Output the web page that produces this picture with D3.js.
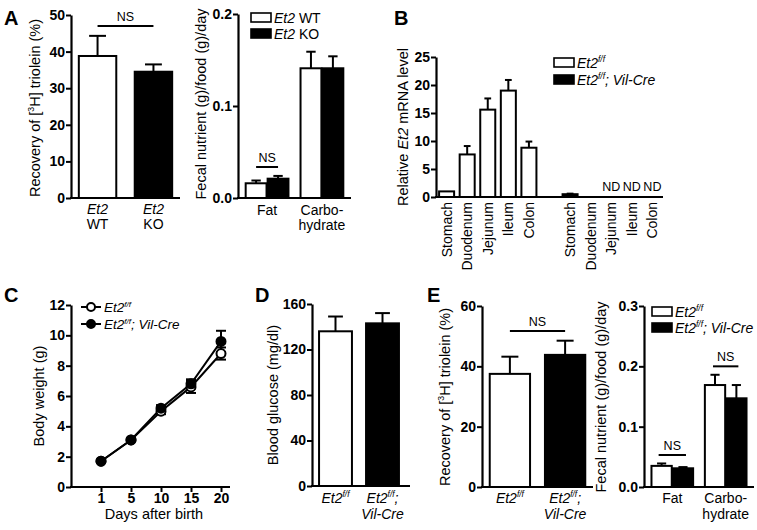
<!DOCTYPE html>
<html><head><meta charset="utf-8">
<script src="https://cdn.jsdelivr.net/npm/d3@7"></script>
<style>body{margin:0;background:#fff} svg{display:block} text{font-family:"Liberation Sans",Arial,Helvetica,sans-serif;fill:#000}</style>
</head><body><svg id="c" width="757" height="530"></svg>
<script>
// ---------- DATA ----------
// Panel A (left): recovery of triolein
const aGroups = ["WT", "KO"];
const aRecovery = [38.8, 34.5];
const aRecoveryErr = [5.5, 2.0];
const aRecoveryTicks = [0, 10, 20, 30, 40, 50];
// Panel A (right): fecal nutrient
const nutrients = ["Fat", "Carbohydrate"];
const aFecalWT = [0.016, 0.141];
const aFecalWTErr = [0.003, 0.018];
const aFecalKO = [0.021, 0.141];
const aFecalKOErr = [0.003, 0.013];
const aFecalTicks = [0, 0.1, 0.2];
// Panel B: relative Et2 mRNA
const tissues = ["Stomach", "Duodenum", "Jejunum", "Ileum", "Colon"];
const bFF = [1.0, 7.6, 15.6, 19.0, 8.8];
const bFFErr = [0, 1.5, 2.0, 1.9, 1.1];
const bCre = [0.5, 0, null, null, null];
const bCreErr = [0.1, 0, null, null, null];
const bTicks = [0, 5, 10, 15, 20, 25];
// Panel C: body weight
const days = [1, 5, 10, 15, 20];
const cFF = [1.7, 3.1, 5.0, 6.6, 8.8];
const cFFErr = [0.1, 0.1, 0.2, 0.4, 0.4];
const cCre = [1.7, 3.1, 5.2, 6.8, 9.6];
const cCreErr = [0.1, 0.1, 0.2, 0.3, 0.7];
const cTicks = [0, 2, 4, 6, 8, 10, 12];
// Panel D: blood glucose
const dGlucose = [136, 143];
const dGlucoseErr = [13, 9];
const dTicks = [0, 40, 80, 120, 160];
// Panel E (left): recovery of triolein
const eRecovery = [37.5, 43.8];
const eRecoveryErr = [5.7, 4.7];
const eRecoveryTicks = [0, 20, 40, 60];
// Panel E (right): fecal nutrient
const eFecalFF = [0.035, 0.169];
const eFecalFFErr = [0.004, 0.017];
const eFecalCre = [0.031, 0.147];
const eFecalCreErr = [0.002, 0.022];
const eFecalTicks = [0, 0.1, 0.2, 0.3];

// ---------- HELPERS ----------
const svg = d3.select("#c");
const FS = 14;      // tick labels
const LS = 14.5;    // axis titles
const CS = 14;      // category labels

function rich(textSel, parts, size) {
  let prevSup = false;
  parts.forEach(p => {
    const ts = textSel.append("tspan").text(p.t);
    if (p.i) ts.attr("font-style", "italic");
    if (p.sup) {
      ts.attr("font-size", size * 0.6).attr("dy", -size * 0.4);
      prevSup = true;
    } else if (prevSup) {
      ts.attr("dy", size * 0.4);
      prevSup = false;
    }
  });
  return textSel;
}

function yAxis(y, x0, ticks, fmt) {
  const g = svg.append("g").attr("transform", `translate(${x0},0)`)
    .call(d3.axisLeft(y).tickValues(ticks).tickFormat(fmt).tickSize(5).tickSizeOuter(0).tickPadding(1));
  g.select(".domain").attr("stroke-width", 2.2).attr("stroke", "#000");
  g.selectAll(".tick line").attr("stroke-width", 2).attr("stroke", "#000");
  g.selectAll(".tick text").attr("font-size", FS).attr("font-weight", "bold")
    .attr("font-family", '"Liberation Sans",Arial,sans-serif').attr("fill", "#000");
  return g;
}

function xLine(x0, x1, yv) {
  svg.append("line").attr("x1", x0 - 1).attr("x2", x1).attr("y1", yv).attr("y2", yv)
    .attr("stroke", "#000").attr("stroke-width", 2.2);
}

function yLabel(cx, cy, parts, size) {
  const t = svg.append("text").attr("transform", `translate(${cx},${cy}) rotate(-90)`)
    .attr("text-anchor", "middle").attr("dy", "0.35em").attr("font-size", size || LS);
  rich(t, parts, size || LS);
}

function panelLetter(x, y, s) {
  svg.append("text").attr("x", x).attr("y", y).attr("font-size", 20)
    .attr("font-weight", "900").text(s);
}

function bar(xLeft, w, y, v, err, fill) {
  const y0 = y(0);
  svg.append("rect").attr("x", xLeft).attr("width", w)
    .attr("y", y(v)).attr("height", Math.max(0, y0 - y(v)))
    .attr("fill", fill).attr("stroke", "#000").attr("stroke-width", 2);
  if (err > 0) {
    const cx = xLeft + w / 2, cw = Math.min(w * 0.45, 17) / 2;
    svg.append("line").attr("x1", cx).attr("x2", cx).attr("y1", y(v)).attr("y2", y(v + err))
      .attr("stroke", "#000").attr("stroke-width", 2);
    svg.append("line").attr("x1", cx - cw).attr("x2", cx + cw).attr("y1", y(v + err)).attr("y2", y(v + err))
      .attr("stroke", "#000").attr("stroke-width", 2);
  }
}

function ns(x1, x2, yv) {
  svg.append("line").attr("x1", x1).attr("x2", x2).attr("y1", yv).attr("y2", yv)
    .attr("stroke", "#000").attr("stroke-width", 2);
  svg.append("text").attr("x", (x1 + x2) / 2).attr("y", yv - 5).attr("text-anchor", "middle")
    .attr("font-size", 12.5).text("NS");
}

function legendBox(x, y, fill, parts, size) {
  svg.append("rect").attr("x", x).attr("y", y).attr("width", 20).attr("height", 9)
    .attr("fill", fill).attr("stroke", "#000").attr("stroke-width", 1.6);
  const t = svg.append("text").attr("x", x + 23).attr("y", y + 9.5).attr("font-size", size || 14);
  rich(t, parts, size || 14);
}

function xText(x, yv, parts, size) {
  const t = svg.append("text").attr("x", x).attr("y", yv).attr("text-anchor", "middle").attr("font-size", size || CS);
  rich(t, parts, size || CS);
}

const FF = [{ t: "Et2", i: true }, { t: "f/f", i: true, sup: true }];
const FFCRE = [{ t: "Et2", i: true }, { t: "f/f", i: true, sup: true }, { t: "; Vil-Cre", i: true }];
const TRIOLEIN = [{ t: "Recovery of [" }, { t: "3", sup: true }, { t: "H] triolein (%)" }];
const FECAL = [{ t: "Fecal nutrient (g)/food (g)/day" }];

// ---------- PANEL A left ----------
{
  const y = d3.scaleLinear().domain([0, 50]).range([198, 15]);
  const x = d3.scaleBand().domain(aGroups).range([71, 180]).paddingInner(0.33).paddingOuter(0.14);
  aGroups.forEach((gname, i) => bar(x(gname), x.bandwidth(), y, aRecovery[i], aRecoveryErr[i], i === 0 ? "#fff" : "#000"));
  xLine(71, 180, y(0));
  yAxis(y, 71, aRecoveryTicks, d3.format("d"));
  ns(x("WT") + x.bandwidth() / 2, x("KO") + x.bandwidth() / 2, y(47));
  aGroups.forEach(gname => {
    const cx = x(gname) + x.bandwidth() / 2;
    xText(cx, 214, [{ t: "Et2", i: true }]);
    xText(cx, 229, [{ t: gname }]);
  });
  yLabel(35, 108, TRIOLEIN);
  panelLetter(4, 25, "A");
}

// ---------- PANEL A right ----------
{
  const y = d3.scaleLinear().domain([0, 0.2]).range([198, 14]);
  const x = d3.scaleBand().domain(nutrients).range([238, 351]).paddingInner(0.22).paddingOuter(0.14);
  const xi = d3.scaleBand().domain(["WT", "KO"]).range([0, x.bandwidth()]).paddingInner(0.05);
  nutrients.forEach((n, i) => {
    bar(x(n) + xi("WT"), xi.bandwidth(), y, aFecalWT[i], aFecalWTErr[i], "#fff");
    bar(x(n) + xi("KO"), xi.bandwidth(), y, aFecalKO[i], aFecalKOErr[i], "#000");
  });
  xLine(238, 351, y(0));
  yAxis(y, 238, aFecalTicks, d3.format(".1f"));
  ns(x("Fat") + xi("WT") + xi.bandwidth() / 2, x("Fat") + xi("KO") + xi.bandwidth() / 2, y(0.0337));
  xText(x("Fat") + x.bandwidth() / 2, 215, [{ t: "Fat" }]);
  xText(x("Carbohydrate") + x.bandwidth() / 2, 215, [{ t: "Carbo-" }]);
  xText(x("Carbohydrate") + x.bandwidth() / 2, 230, [{ t: "hydrate" }]);
  yLabel(201, 104, FECAL);
  legendBox(251, 13, "#fff", [{ t: "Et2", i: true }, { t: " WT" }]);
  legendBox(251, 29, "#000", [{ t: "Et2", i: true }, { t: " KO" }]);
}

// ---------- PANEL B ----------
{
  const y = d3.scaleLinear().domain([0, 25]).range([197, 57]);
  const slots = tissues.map(t => "ff-" + t).concat(["gap"], tissues.map(t => "cre-" + t));
  const x = d3.scaleBand().domain(slots).range([436, 663]).paddingInner(0.27).paddingOuter(0.15);
  tissues.forEach((t, i) => {
    bar(x("ff-" + t), x.bandwidth(), y, bFF[i], bFFErr[i], "#fff");
    if (bCre[i] !== null && bCre[i] > 0) bar(x("cre-" + t), x.bandwidth(), y, bCre[i], bCreErr[i], "#000");
    if (bCre[i] === null) {
      svg.append("text").attr("x", x("cre-" + t) + x.bandwidth() / 2).attr("y", y(0) - 6)
        .attr("text-anchor", "middle").attr("font-size", 12.5).text("ND");
    }
  });
  xLine(436, 663, y(0));
  yAxis(y, 436, bTicks, d3.format("d"));
  slots.filter(s => s !== "gap").forEach(s => {
    const cx = x(s) + x.bandwidth() / 2;
    svg.append("text").attr("transform", `translate(${cx},${y(0) + 5}) rotate(-90)`)
      .attr("text-anchor", "end").attr("dy", "0.35em").attr("font-size", CS)
      .text(s.split("-")[1]);
  });
  yLabel(403, 127, [{ t: "Relative " }, { t: "Et2", i: true }, { t: " mRNA level" }]);
  legendBox(554, 58, "#fff", FF);
  legendBox(554, 75, "#000", FFCRE);
  panelLetter(394, 25, "B");
}

// ---------- PANEL C ----------
{
  const y = d3.scaleLinear().domain([0, 12]).range([487, 305]);
  const x = d3.scalePoint().domain(days).range([101, 221]);
  xLine(71, 230, y(0));
  yAxis(y, 71, cTicks, d3.format("d"));
  const xg = svg.append("g").attr("transform", `translate(0,${y(0)})`)
    .call(d3.axisBottom(x).tickSize(5).tickPadding(1));
  xg.select(".domain").remove();
  xg.selectAll(".tick line").attr("stroke-width", 2).attr("stroke", "#000");
  xg.selectAll(".tick text").attr("font-size", FS).attr("font-weight", "bold")
    .attr("font-family", '"Liberation Sans",Arial,sans-serif').attr("fill", "#000");
  const series = [
    { v: cFF, e: cFFErr, fill: "#fff" },
    { v: cCre, e: cCreErr, fill: "#000" }
  ];
  const line = d3.line().x((d, i) => x(days[i])).y(d => y(d));
  series.forEach(s => {
    svg.append("path").attr("d", line(s.v)).attr("fill", "none").attr("stroke", "#000").attr("stroke-width", 2);
    s.v.forEach((v, i) => {
      const cx = x(days[i]);
      if (s.e[i] > 0.15) {
        svg.append("line").attr("x1", cx).attr("x2", cx).attr("y1", y(v - s.e[i])).attr("y2", y(v + s.e[i]))
          .attr("stroke", "#000").attr("stroke-width", 2);
        [v - s.e[i], v + s.e[i]].forEach(ev => svg.append("line").attr("x1", cx - 5).attr("x2", cx + 5)
          .attr("y1", y(ev)).attr("y2", y(ev)).attr("stroke", "#000").attr("stroke-width", 2));
      }
    });
  });
  series.forEach(s => {
    s.v.forEach((v, i) => {
      svg.append("circle").attr("cx", x(days[i])).attr("cy", y(v)).attr("r", 4.5)
        .attr("fill", s.fill).attr("stroke", "#000").attr("stroke-width", 2);
    });
  });
  // legend
  [[307, "#fff", FF], [324, "#000", FFCRE]].forEach(([ly, fill, parts]) => {
    svg.append("line").attr("x1", 81).attr("x2", 101).attr("y1", ly).attr("y2", ly).attr("stroke", "#000").attr("stroke-width", 2);
    svg.append("circle").attr("cx", 91).attr("cy", ly).attr("r", 4).attr("fill", fill).attr("stroke", "#000").attr("stroke-width", 2);
    const t = svg.append("text").attr("x", 104).attr("y", ly + 5).attr("font-size", 13.5);
    rich(t, parts, 13.5);
  });
  svg.append("text").attr("x", 154).attr("y", 519).attr("text-anchor", "middle").attr("font-size", LS).text("Days after birth");
  yLabel(39, 396, [{ t: "Body weight (g)" }]);
  panelLetter(4, 302, "C");
}

// ---------- PANEL D ----------
{
  const y = d3.scaleLinear().domain([0, 160]).range([486, 304]);
  const x = d3.scaleBand().domain([0, 1]).range([312, 406]).paddingInner(0.3).paddingOuter(0.15);
  dGlucose.forEach((v, i) => bar(x(i), x.bandwidth(), y, v, dGlucoseErr[i], i === 0 ? "#fff" : "#000"));
  xLine(312, 410, y(0));
  yAxis(y, 312, dTicks, d3.format("d"));
  xText(x(0) + x.bandwidth() / 2, 503, FF);
  xText(x(1) + x.bandwidth() / 2, 503, FF.concat([{ t: ";", i: true }]));
  xText(x(1) + x.bandwidth() / 2, 519, [{ t: "Vil-Cre", i: true }]);
  yLabel(273, 395, [{ t: "Blood glucose (mg/dl)" }]);
  panelLetter(255, 302, "D");
}

// ---------- PANEL E left ----------
{
  const y = d3.scaleLinear().domain([0, 60]).range([487, 306]);
  const x = d3.scaleBand().domain([0, 1]).range([482, 593]).paddingInner(0.27).paddingOuter(0.14);
  eRecovery.forEach((v, i) => bar(x(i), x.bandwidth(), y, v, eRecoveryErr[i], i === 0 ? "#fff" : "#000"));
  xLine(482, 593, y(0));
  yAxis(y, 482, eRecoveryTicks, d3.format("d"));
  ns(x(0) + x.bandwidth() / 2, x(1) + x.bandwidth() / 2, y(51.7));
  xText(x(0) + x.bandwidth() / 2, 503, FF);
  xText(x(1) + x.bandwidth() / 2, 503, FF.concat([{ t: ";", i: true }]));
  xText(x(1) + x.bandwidth() / 2, 519, [{ t: "Vil-Cre", i: true }]);
  yLabel(445, 397, TRIOLEIN);
  panelLetter(427, 302, "E");
}

// ---------- PANEL E right ----------
{
  const y = d3.scaleLinear().domain([0, 0.3]).range([487, 306]);
  const x = d3.scaleBand().domain(nutrients).range([644, 754]).paddingInner(0.22).paddingOuter(0.14);
  const xi = d3.scaleBand().domain(["ff", "cre"]).range([0, x.bandwidth()]).paddingInner(0.05);
  nutrients.forEach((n, i) => {
    bar(x(n) + xi("ff"), xi.bandwidth(), y, eFecalFF[i], eFecalFFErr[i], "#fff");
    bar(x(n) + xi("cre"), xi.bandwidth(), y, eFecalCre[i], eFecalCreErr[i], "#000");
  });
  xLine(644, 754, y(0));
  yAxis(y, 644, eFecalTicks, d3.format(".1f"));
  ns(x("Fat") + xi("ff") + xi.bandwidth() / 2 - 3, x("Fat") + xi("cre") + xi.bandwidth() / 2 + 3, y(0.053));
  ns(x("Carbohydrate") + xi("ff") + xi.bandwidth() / 2 - 2, x("Carbohydrate") + xi("cre") + xi.bandwidth() / 2 + 2, y(0.2));
  xText(x("Fat") + x.bandwidth() / 2, 503, [{ t: "Fat" }]);
  xText(x("Carbohydrate") + x.bandwidth() / 2, 503, [{ t: "Carbo-" }]);
  xText(x("Carbohydrate") + x.bandwidth() / 2, 519, [{ t: "hydrate" }]);
  yLabel(601, 397, FECAL);
  legendBox(652, 307, "#fff", FF);
  legendBox(652, 323, "#000", FFCRE);
}
</script></body></html>
